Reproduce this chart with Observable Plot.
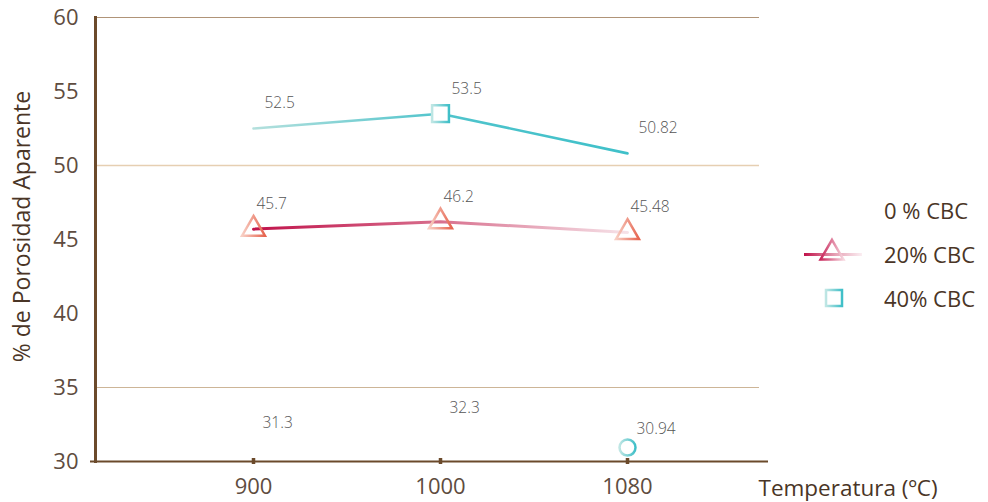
<!DOCTYPE html>
<html>
<head>
<meta charset="utf-8">
<script src="https://cdn.jsdelivr.net/npm/d3@7"></script>
<script src="https://cdn.jsdelivr.net/npm/@observablehq/plot@0.6"></script>
<style>
  html, body { margin: 0; padding: 0; background: #fff; }
  #wrap { position: relative; width: 988px; height: 502px; font-family: "Open Sans", sans-serif; }
  #wrap svg.plot { position: absolute; left: 0; top: 0; }
  #legend { position: absolute; left: 800px; top: 188px; }
  .row { display: flex; align-items: center; height: 44px; }
  .row svg { width: 84px; height: 44px; flex: none; }
  .row span { font-size: 22px; color: #4a3526; }
</style>
</head>
<body>
<div id="wrap"></div>
<script>
// ---- data ----
const temps = ["900", "1000", "1080"];
const series0 = [31.3, 32.3, 30.94];
const series20 = [45.7, 46.2, 45.48];
const series40 = [52.5, 53.5, 50.82];
const labels0 = ["31.3", "32.3", "30.94"];
const labels20 = ["45.7", "46.2", "45.48"];
const labels40 = ["52.5", "53.5", "50.82"];
const marker0 = [false, false, true];
const marker40 = [false, true, false];
const yTicks = [30, 35, 40, 45, 50, 55, 60];
const gridTop = [60];
const gridMid = [50];
const gridLow = [35];
const yTitle = "% de Porosidad Aparente";
const xTitle = "Temperatura (ºC)";
const legendNames = ["0 % CBC", "20% CBC", "40% CBC"];

const rows = (vals, labs, marks) => temps.map((t, i) => ({x: t, y: vals[i], label: labs[i], marker: marks ? marks[i] : true}));
const d0 = rows(series0, labels0, marker0);
const d20 = rows(series20, labels20);
const d40 = rows(series40, labels40, marker40);

const brown = "#6b4a2b";
const tickFill = "#5e4c40";

const chart = Plot.plot({
  width: 988,
  height: 502,
  marginLeft: 95,
  marginRight: 220,
  marginTop: 17,
  marginBottom: 41,
  style: {fontFamily: "'Open Sans', sans-serif", background: "transparent"},
  x: {type: "point", domain: temps, padding: 0.795, align: 0.527},
  y: {domain: [30, 60]},
  marks: [
    Plot.ruleY(gridTop, {stroke: "#b09478", strokeWidth: 1.2, insetRight: 9}),
    Plot.ruleY(gridMid, {stroke: "#e6cfb2", strokeWidth: 1.5, insetRight: 9}),
    Plot.ruleY(gridLow, {stroke: "#cdb597", strokeWidth: 1.2, insetRight: 9}),
    Plot.axisY({ticks: yTicks, tickSize: 0, tickPadding: 17, fontSize: 22, fill: tickFill, label: null}),
    Plot.axisX({tickSize: 0, tickPadding: 17, fontSize: 22, fill: tickFill, label: null}),
    Plot.text([yTitle], {frameAnchor: "left", textAnchor: "middle", rotate: -90, dx: -73, dy: -13, fontSize: 23, fill: "#4a3526"}),
    Plot.frame({anchor: "left", stroke: brown, strokeWidth: 3}),
    Plot.ruleY([30], {stroke: brown, strokeWidth: 2, insetLeft: -5}),
    Plot.ruleX(temps, {x: d => d, y1: 30, y2: 30, insetTop: -3, insetBottom: -3, stroke: brown, strokeWidth: 3.5}),
    Plot.text([xTitle], {frameAnchor: "bottom-right", textAnchor: "start", dx: -10, dy: 34, fontSize: 22.5, fill: "#4a3526"}),
    // 40% series
    Plot.line(d40, {x: "x", y: "y", stroke: "url(#g40line)", strokeWidth: 2.6}),
    Plot.dot(d40.filter(d => d.marker), {x: "x", y: "y", symbol: "square", r: 9.5, fill: "white", stroke: "url(#gTeal)", strokeWidth: 2.5}),
    Plot.text(d40, {x: "x", y: "y", text: "label", textAnchor: "start", dx: 11, dy: -25, fontSize: 15.5, fontWeight: 300, fill: "#555555"}),
    // 20% series
    Plot.line(d20, {x: "x", y: "y", stroke: "url(#g20line)", strokeWidth: 3}),
    Plot.dot(d20, {x: "x", y: "y", symbol: "triangle", r: 8.5, fill: "white", fillOpacity: 0, stroke: "url(#gTri)", strokeWidth: 2.5}),
    Plot.text(d20, {x: "x", y: "y", text: "label", textAnchor: "start", dx: 3, dy: -25, fontSize: 15.5, fontWeight: 300, fill: "#555555"}),
    // 0% series
    Plot.dot(d0.filter(d => d.marker), {x: "x", y: "y", symbol: "circle", r: 8, fill: "white", stroke: "url(#gTeal)", strokeWidth: 2.5}),
    Plot.text(d0, {x: "x", y: "y", text: "label", textAnchor: "start", dx: 9, dy: -19, fontSize: 15.5, fontWeight: 300, fill: "#555555"})
  ]
});
chart.classList.add("plot");

function addGrad(defs, id, stops, user) {
  const g = defs.append("linearGradient").attr("id", id);
  if (user) g.attr("gradientUnits", "userSpaceOnUse").attr("x1", user[0]).attr("x2", user[1]).attr("y1", 0).attr("y2", 0);
  else g.attr("x1", "0%").attr("x2", "100%").attr("y1", "0%").attr("y2", "0%");
  stops.forEach(([o, c]) => g.append("stop").attr("offset", o).attr("stop-color", c));
}
const defs = d3.select(chart).insert("defs", ":first-child");
addGrad(defs, "g40line", [["0%", "#b4e0dd"], ["50%", "#50c4cc"], ["100%", "#3fc0c9"]]);
addGrad(defs, "g20line", [["0%", "#c0124a"], ["50%", "#d8708e"], ["100%", "#f6e2e8"]]);
addGrad(defs, "gTri", [["0%", "#f8cfc4"], ["100%", "#e6644f"]]);
addGrad(defs, "gTeal", [["0%", "#bfe6e4"], ["100%", "#3fbfc8"]]);
addGrad(defs, "gLeg20", [["0%", "#c0124a"], ["55%", "#e7a3b6"], ["100%", "#fbeef2"]], [4, 62]);
addGrad(defs, "gLegTri", [["0%", "#c8265a"], ["100%", "#f6d6de"]]);

const wrap = document.getElementById("wrap");
wrap.appendChild(chart);

// legend
const legend = document.createElement("div");
legend.id = "legend";
wrap.appendChild(legend);
legendNames.forEach((name, i) => {
  const row = document.createElement("div");
  row.className = "row";
  const s = d3.create("svg").attr("width", 84).attr("height", 44);
  if (i === 1) {
    s.append("line").attr("x1", 4).attr("x2", 62).attr("y1", 22.5).attr("y2", 22.5).attr("stroke", "url(#gLeg20)").attr("stroke-width", 3);
    s.append("path").attr("transform", "translate(32,21)").attr("d", d3.symbol(d3.symbolTriangle, 8.5 * 8.5 * Math.PI)()).attr("fill", "none").attr("stroke", "url(#gLegTri)").attr("stroke-width", 2.5);
  } else if (i === 2) {
    s.append("rect").attr("x", 26).attr("y", 14).attr("width", 16).attr("height", 16).attr("fill", "white").attr("stroke", "url(#gTeal)").attr("stroke-width", 2.5);
  }
  row.appendChild(s.node());
  const t = document.createElement("span");
  t.textContent = name;
  row.appendChild(t);
  legend.appendChild(row);
});
</script>
</body>
</html>
